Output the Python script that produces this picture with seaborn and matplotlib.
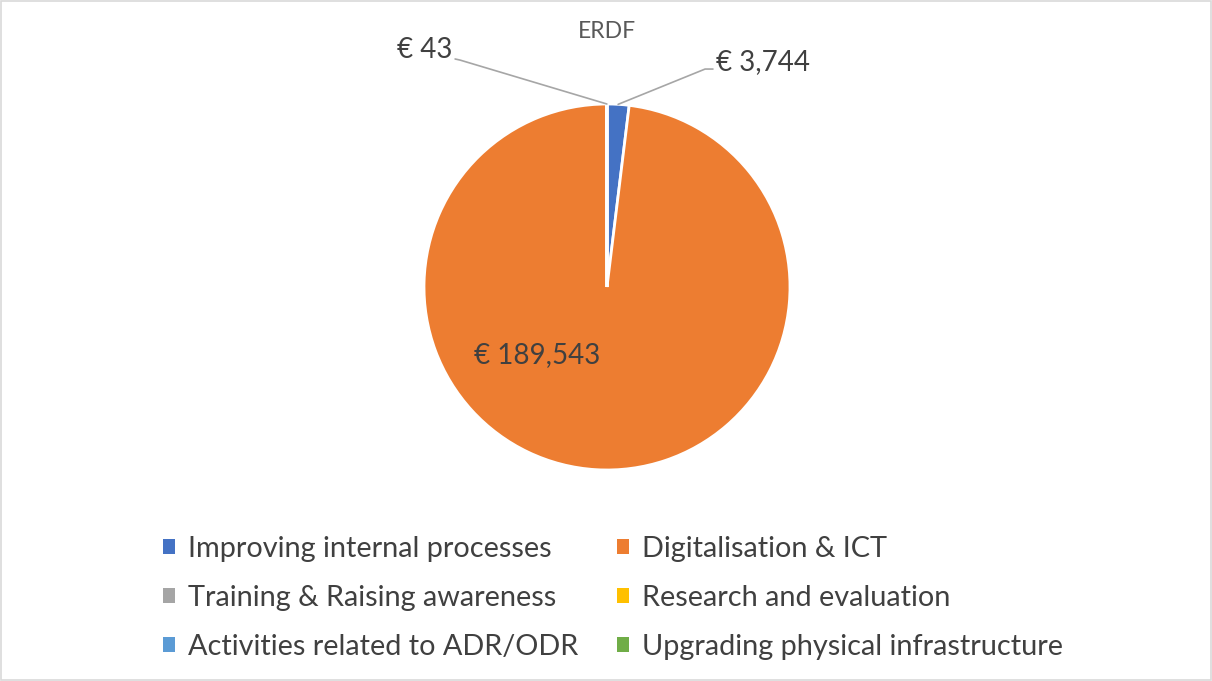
import numpy as np
import matplotlib.pyplot as plt
import seaborn as sns
from matplotlib.patches import Patch, Rectangle

# dati
categorie = ["Improving internal processes", "Digitalisation & ICT",
             "Training & Raising awareness", "Research and evaluation",
             "Activities related to ADR/ODR", "Upgrading physical infrastructure"]
valori = [3744, 189543, 43, 0, 0, 0]
etichette = ["€ 3,744", "€ 189,543", "€ 43", "", "", ""]
colori = ["#4472C4", "#ED7D31", "#A5A5A5", "#FFC000", "#5B9BD5", "#70AD47"]
titolo = "ERDF"

sns.set_theme(style="white")
plt.rcParams['font.family'] = ['Lato', 'DejaVu Sans']

fig = plt.figure(figsize=(12.12, 6.81), dpi=100)
fig.patches.append(Rectangle((0.001, 0.001), 0.998, 0.997, transform=fig.transFigure,
                             fill=False, edgecolor="#D9D9D9", linewidth=1.2))

# pie: center (607,287) px, raggio 183 px
ax = fig.add_axes([424 / 1212, (681 - 470) / 681, 366 / 1212, 366 / 681])
wedges, _ = ax.pie(valori, colors=colori, startangle=90, counterclock=False,
                   radius=1, wedgeprops=dict(edgecolor="white", linewidth=2))
ax.set_xlim(-1, 1)
ax.set_ylim(-1, 1)
ax.set_aspect("equal")
ax.axis("off")

def punto_bordo(w):
    ang = np.deg2rad((w.theta1 + w.theta2) / 2)
    return np.cos(ang), np.sin(ang)

testo_col = "#404040"
linea_col = "#A6A6A6"

# etichetta € 3,744 con linea guida
x0, y0 = punto_bordo(wedges[0])
ax.plot([x0, 0.536, 0.579], [y0, 1.191, 1.191], color=linea_col, lw=1.2, clip_on=False)
ax.text(0.596, 1.23, etichette[0], ha="left", va="center", fontsize=20, color=testo_col)

# etichetta € 43 con linea guida
x2, y2 = punto_bordo(wedges[2])
ax.plot([x2, -0.803, -0.83], [y2, 1.24, 1.246], color=linea_col, lw=1.2, clip_on=False)
ax.text(-0.847, 1.295, etichette[2], ha="right", va="center", fontsize=20, color=testo_col)

# etichetta interna
ax.text(-0.383, -0.372, etichette[1], ha="center", va="center", fontsize=20, color=testo_col)

fig.text(607 / 1212, 1 - 32 / 681, titolo, ha="center", va="center",
         fontsize=16.5, color="#595959")

# legenda (ordine per righe)
ordine = [0, 2, 4, 1, 3, 5]
handles = [Patch(facecolor=colori[i], edgecolor="none") for i in ordine]
nomi = [categorie[i] for i in ordine]
fig.legend(handles, nomi, ncol=2, loc="upper left",
           bbox_to_anchor=(163 / 1212, 1 - 536 / 681), frameon=False,
           fontsize=20.8, handlelength=0.42, handleheight=0.42,
           handletextpad=0.45, columnspacing=1.32, labelspacing=0.8,
           borderpad=0, borderaxespad=0, labelcolor=testo_col)

plt.savefig("out.png", dpi=100)
